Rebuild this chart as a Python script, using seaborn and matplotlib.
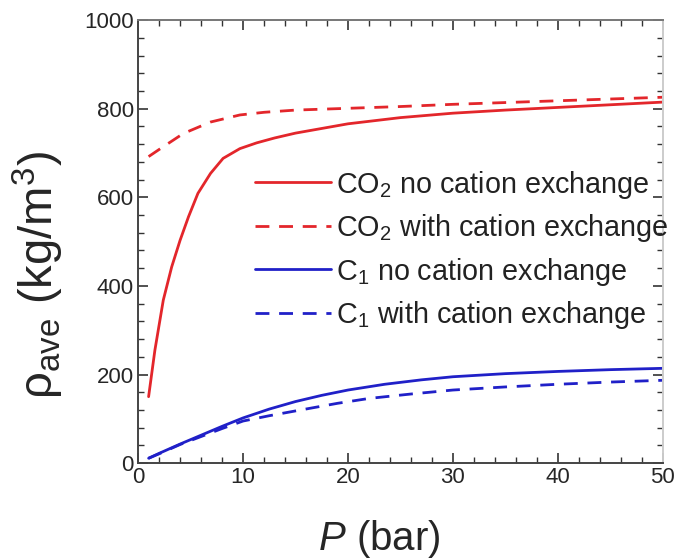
import numpy as np
import pandas as pd
import matplotlib
matplotlib.use("Agg")
import matplotlib.pyplot as plt
import seaborn as sns
from matplotlib.ticker import MultipleLocator

# ---- data ----
p_co2_no = [1, 1.6, 2.4, 3.2, 4.0, 4.8, 5.7, 6.9, 8.1, 9.7, 11.3, 13, 15, 20, 25, 30, 35, 40, 45, 50]
rho_co2_no = [150, 255, 368, 443, 503, 556, 609, 654, 688, 710, 723, 734, 745, 766, 780, 790, 797, 803, 809, 815]

p_co2_ex = [1, 2, 4.3, 6.9, 9.7, 12, 15, 20, 25, 30, 35, 40, 45, 50]
rho_co2_ex = [692, 708, 744, 770, 786, 792, 797, 801, 805, 810, 814, 818, 822, 826]

p_c1_no = [1, 2, 4, 6, 8, 10, 12.5, 15, 17.5, 20, 23.5, 27, 30, 35, 40, 45, 50]
rho_c1_no = [11, 22, 43, 63, 83, 102, 122, 139, 153, 165, 178, 188, 195, 202, 207, 211, 214]

p_c1_ex = [1, 2, 4, 6, 8, 10, 12.5, 15.5, 19, 22, 26, 30, 35, 40, 45, 50]
rho_c1_ex = [11, 21, 42, 60, 78, 95, 107, 120, 135, 146, 156, 165, 172, 178, 183, 187]

labels = ["CO$_2$ no cation exchange", "CO$_2$ with cation exchange",
          "C$_1$ no cation exchange", "C$_1$ with cation exchange"]
x_ticks = [0, 10, 20, 30, 40, 50]
y_ticks = [0, 200, 400, 600, 800, 1000]

sns.set_theme(style="ticks")
plt.rcParams["font.family"] = ["Liberation Sans", "DejaVu Sans"]
plt.rcParams["mathtext.fontset"] = "custom"
plt.rcParams["mathtext.rm"] = "Liberation Sans"
plt.rcParams["mathtext.it"] = "Liberation Sans:italic"
plt.rcParams["mathtext.bf"] = "Liberation Sans:bold"

fig = plt.figure(figsize=(6.77, 5.6), dpi=100)
ax = fig.add_axes([0.204, 0.173, 0.775, 0.791])

red = "#e3262b"
blue = "#2020c8"
series = [
    (p_co2_no, rho_co2_no, red, "-"),
    (p_co2_ex, rho_co2_ex, red, "--"),
    (p_c1_no, rho_c1_no, blue, "-"),
    (p_c1_ex, rho_c1_ex, blue, "--"),
]
for (px, py, col, ls), lab in zip(series, labels):
    df = pd.DataFrame({"P": px, "rho": py})
    sns.lineplot(data=df, x="P", y="rho", ax=ax, color=col, linewidth=2.0,
                 label=lab, estimator=None, sort=True)
    ln = ax.get_lines()[-1]
    ln.set_solid_joinstyle("round")
    ln.set_linestyle(ls)
    if ls == "--":
        ln.set_dashes((5, 3.5))

ax.set_xlim(0, 50)
ax.set_ylim(0, 1000)
ax.set_xticks(x_ticks)
ax.set_yticks(y_ticks)
ax.xaxis.set_minor_locator(MultipleLocator(2))
ax.yaxis.set_minor_locator(MultipleLocator(40))
ax.tick_params(which="both", direction="in", top=True, right=True, color="#333333",
               labelsize=16, pad=3)
ax.tick_params(which="major", length=7, width=1.2)
ax.tick_params(which="minor", length=4, width=1.0)
for s in ax.spines.values():
    s.set_color("#444444")
    s.set_linewidth(1.4)
ax.spines["top"].set_color("#777777")
ax.spines["right"].set_color("#cccccc")

ax.set_xlabel("$P$ (bar)", fontsize=29)
ax.xaxis.set_label_coords(0.46, -0.196)
ax.xaxis.label.set_verticalalignment("baseline")
ax.set_ylabel("ρ$_{\\rm ave}$ (kg/m$^3$)", fontsize=34)
ax.yaxis.set_label_coords(-0.137, 0.425)

leg = ax.legend(loc="upper left", bbox_to_anchor=(0.222, 0.665), frameon=False,
                fontsize=20.7, handlelength=2.65, handletextpad=0.18, labelspacing=0.40,
                borderpad=0, borderaxespad=0)
for t in leg.get_texts():
    t.set_color("#222222")

fig.savefig("out.png", dpi=100, facecolor="white")
